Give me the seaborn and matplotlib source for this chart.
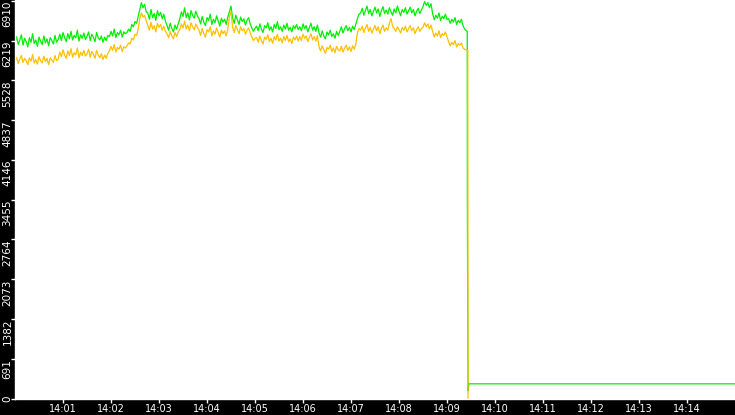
import numpy as np
import pandas as pd
import matplotlib
matplotlib.use("Agg")
import matplotlib.pyplot as plt
import matplotlib.dates as mdates
import seaborn as sns

# samples every 2 s starting 14:00:00
start = "2024-01-01 14:00:00"
green_vals = [6180, 6290, 6150, 6230, 6320, 6140, 6260, 6200, 6110, 6270, 6190, 6340, 6170, 6230, 6120, 6280, 6210, 6150, 6300, 6180, 6250, 6130, 6270, 6220, 6160, 6310, 6190, 6240,
              6330, 6220, 6360, 6270, 6200, 6340, 6250, 6380, 6230, 6310, 6270, 6400, 6210, 6320, 6260, 6350, 6240, 6290, 6370, 6220, 6330, 6280, 6200, 6360, 6270,
              6230, 6300, 6190, 6280, 6220, 6310,
              6290, 6380, 6300, 6420, 6270, 6360, 6320, 6400, 6280, 6370, 6340,
              6360, 6420, 6380, 6500, 6460, 6550, 6520, 6640,
              6760, 6880, 6790, 6850, 6720,
              6700, 6590, 6760, 6620, 6690, 6570, 6740, 6650, 6710, 6600, 6680, 6560,
              6480, 6400, 6520, 6430, 6370, 6490, 6420, 6510,
              6600, 6720, 6640, 6790, 6620, 6700, 6580, 6740, 6660, 6610, 6730, 6650,
              6600, 6510, 6640, 6540, 6480, 6620, 6570, 6680, 6500, 6590, 6530, 6650, 6560, 6470, 6610, 6540, 6590, 6500, 6630,
              6720, 6820,
              6610, 6520, 6660, 6580, 6500, 6630, 6550, 6600, 6490, 6570, 6620, 6510,
              6440, 6380, 6430,
              6470, 6390, 6510, 6420, 6360, 6480, 6440, 6530, 6400, 6460, 6370, 6500, 6430, 6550, 6410, 6460, 6380, 6490, 6420, 6520, 6400, 6450, 6370, 6480, 6430, 6500, 6410,
              6460, 6390, 6510, 6430, 6480, 6370, 6450, 6520, 6400, 6460, 6380, 6490,
              6350, 6280, 6390, 6300, 6250, 6370, 6320, 6400, 6290, 6340, 6260, 6380, 6310,
              6380, 6460, 6350, 6430, 6480, 6390, 6450, 6370, 6470, 6410, 6500,
              6600, 6680,
              6700, 6780, 6660, 6740, 6820, 6690, 6760, 6650, 6730, 6800, 6700, 6770, 6640, 6740, 6810, 6690, 6750, 6680, 6790, 6720,
              6660, 6770, 6700, 6820, 6730, 6650, 6760, 6710, 6790, 6680, 6740, 6800, 6700, 6760, 6650, 6730, 6780, 6690, 6750,
              6810, 6900, 6830, 6880, 6790, 6860,
              6690, 6580, 6660, 6610, 6700, 6570, 6640, 6600, 6680, 6590,
              6600, 6520, 6590, 6540, 6620, 6500, 6570, 6530, 6590, 6480]
orange_vals = [5850, 5930, 5820, 5900, 5960, 5840, 5910, 5870, 5800, 5920, 5860, 5980, 5830, 5890, 5810, 5940, 5870, 5830, 5950, 5860, 5910, 5800, 5920, 5880, 5840, 5960, 5870, 5900,
               6020, 5940, 6060, 5970, 5910, 6040, 5960, 6080, 5930, 6010, 5970, 6090, 5920, 6020, 5960, 6050, 5950, 5990, 6070, 5930, 6030, 5980, 5910, 6050, 5970,
               5920, 5990, 5890, 5970, 5910, 6000,
               6040, 6120, 6050, 6150, 6020, 6100, 6070, 6140, 6030, 6110, 6090,
               6130, 6180, 6160, 6260, 6230, 6330, 6310, 6420,
               6600, 6700, 6630, 6660, 6560,
               6490, 6400, 6540, 6420, 6480, 6370, 6520, 6450, 6500, 6400, 6470, 6380,
               6340, 6270, 6380, 6300, 6250, 6360, 6290, 6370,
               6410, 6510, 6440, 6560, 6420, 6490, 6390, 6530, 6460, 6410, 6510, 6450,
               6400, 6310, 6430, 6340, 6280, 6410, 6370, 6460, 6300, 6390, 6330, 6440, 6360, 6280, 6400, 6340, 6390, 6300, 6420,
               6640, 6730,
               6450, 6360, 6480, 6410, 6340, 6460, 6390, 6430, 6330, 6400, 6440, 6360,
               6280, 6220, 6260,
               6270, 6190, 6300, 6220, 6160, 6280, 6240, 6320, 6200, 6260, 6170, 6290, 6230, 6330, 6210, 6260, 6180, 6290, 6220, 6310, 6200, 6250, 6170, 6280, 6230, 6300, 6210,
               6290, 6220, 6330, 6260, 6300, 6200, 6280, 6340, 6230, 6290, 6210, 6310,
               6110, 6040, 6130, 6060, 6000, 6100, 6070, 6140, 6030, 6090, 6010, 6120, 6060,
               6040, 6120, 6020, 6090, 6140, 6050, 6110, 6030, 6130, 6070, 6160,
               6350, 6430,
               6400, 6470, 6360, 6440, 6500, 6380, 6450, 6350, 6420, 6480, 6390, 6460, 6340, 6430, 6490, 6380, 6440, 6400, 6520, 6600,
               6470, 6430, 6380, 6460, 6410, 6350, 6450, 6400, 6470, 6370, 6430, 6480, 6390, 6440, 6340, 6410, 6460, 6380, 6430,
               6450, 6530, 6460, 6510, 6420, 6490,
               6380, 6280, 6350, 6300, 6390, 6270, 6340, 6310, 6370, 6290,
               6200, 6130, 6190, 6150, 6220, 6110, 6170, 6140, 6180, 6090]

# the drop after 14:09:25 (seconds after 14:00)
green_tail_sec = [562, 565.3, 565.5, 566.3, 567.2, 900]
green_tail_vals = [6420, 6380, 3150, 130, 255, 255]
orange_tail_sec = [562, 566.0, 566.25]
orange_tail_vals = [6070, 6050, 0]

yticks = [0, 691, 1382, 2073, 2764, 3455, 4146, 4837, 5528, 6219, 6910]

t0 = pd.Timestamp(start)
g_time = list(pd.date_range(start, periods=len(green_vals), freq="2s")) + \
    [t0 + pd.Timedelta(seconds=s) for s in green_tail_sec]
o_time = list(pd.date_range(start, periods=len(orange_vals), freq="2s")) + \
    [t0 + pd.Timedelta(seconds=s) for s in orange_tail_sec]
df = pd.concat([
    pd.DataFrame({"time": g_time, "value": green_vals + green_tail_vals, "series": "green"}),
    pd.DataFrame({"time": o_time, "value": orange_vals + orange_tail_vals, "series": "orange"}),
])

sns.set_style("white")
fig = plt.figure(figsize=(7.35, 4.15), dpi=100, facecolor="black")
ax = fig.add_axes([15 / 735, 16.5 / 415, 720 / 735, 398.5 / 415])
ax.set_facecolor("white")

sns.lineplot(data=df, x="time", y="value", hue="series",
             palette={"green": "#00ee00", "orange": "#ffc000"},
             estimator=None, sort=False, linewidth=0.9, legend=False, ax=ax)

ax.set_xlim(t0, t0 + pd.Timedelta(minutes=15))
ax.set_ylim(0, 6925)
ax.xaxis.set_major_locator(mdates.MinuteLocator(byminute=range(1, 15)))
ax.xaxis.set_major_formatter(mdates.DateFormatter("%H:%M"))
ax.set_yticks(yticks)
ax.set_yticklabels([str(v) for v in yticks])
ax.set_xlabel("")
ax.set_ylabel("")

for s in ["top", "right"]:
    ax.spines[s].set_visible(False)
for s in ["bottom", "left"]:
    ax.spines[s].set_color("white")
    ax.spines[s].set_linewidth(1)

ax.tick_params(axis="both", colors="white", length=3, width=1, direction="out")
ax.tick_params(axis="x", bottom=True, pad=1.2, labelsize=7)
ax.tick_params(axis="y", left=True, pad=-1.2, labelsize=7.5)
for lab in ax.get_yticklabels():
    lab.set_rotation(90)
    lab.set_va("top" if lab.get_text() != "0" else "center")
    lab.set_color("white")
for lab in ax.get_xticklabels():
    lab.set_color("white")

fig.savefig("out.png", dpi=100, facecolor="black")
